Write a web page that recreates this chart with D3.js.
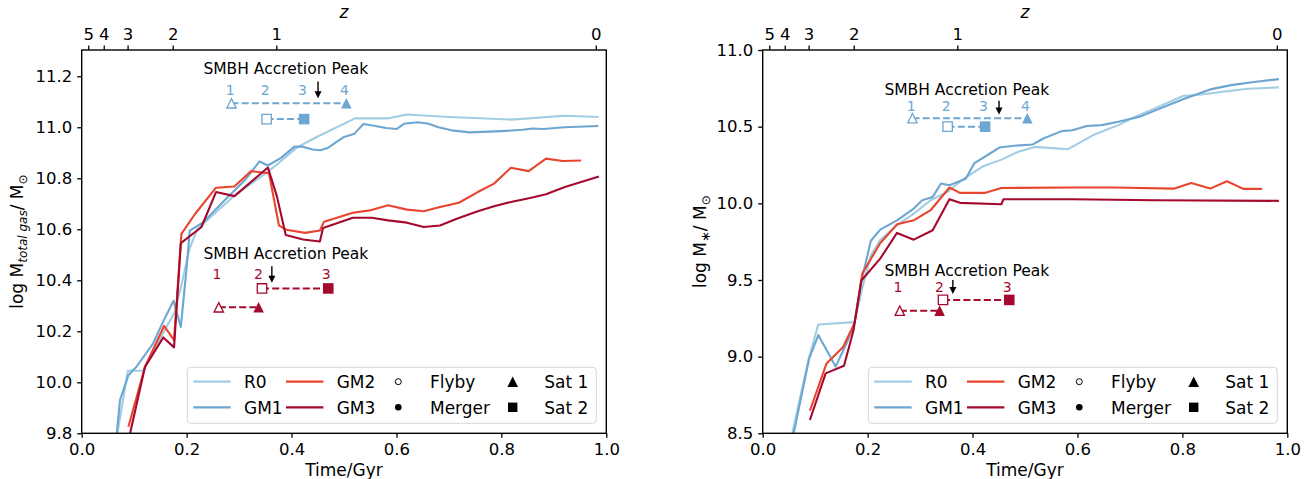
<!DOCTYPE html>
<html>
<head>
<meta charset="utf-8">
<script src="https://cdn.jsdelivr.net/npm/d3@7"></script>
<style>
body { margin: 0; background: #fff; }
text { font-family: "DejaVu Sans", sans-serif; }
</style>
</head>
<body>
<svg id="chart" width="1309" height="479"></svg>
<script>
// series names + colours
const seriesNames = ["R0", "GM1", "GM2", "GM3"];
const seriesColors = ["#a0cde4", "#6ea6d2", "#e8442e", "#a50a2e"];

// redshift ticks on the top axis (time where each z sits)
const zTickLabels = [5, 4, 3, 2, 1, 0];
const zTickTimes = [0.0125, 0.042, 0.0875, 0.1735, 0.371, 0.98];

const timeTicks = [0.0, 0.2, 0.4, 0.6, 0.8, 1.0];
const gasTicks = [9.8, 10.0, 10.2, 10.4, 10.6, 10.8, 11.0, 11.2];
const starTicks = [8.5, 9.0, 9.5, 10.0, 10.5, 11.0];

// log M_total gas  [time, value]
const gasR0 = [[0.060, 9.70], [0.088, 10.045], [0.117, 10.045], [0.135, 10.12], [0.157, 10.20],
  [0.176, 10.27], [0.190, 10.38], [0.205, 10.52], [0.220, 10.60], [0.287, 10.725], [0.351, 10.82],
  [0.370, 10.85], [0.410, 10.92], [0.446, 10.96], [0.521, 11.035], [0.585, 11.035], [0.620, 11.05],
  [0.700, 11.04], [0.820, 11.03], [0.920, 11.045], [0.985, 11.04]];
const gasGM1 = [[0.060, 9.65], [0.073, 9.93], [0.089, 10.028], [0.104, 10.06], [0.136, 10.152],
  [0.155, 10.237], [0.175, 10.32], [0.189, 10.217], [0.200, 10.45], [0.206, 10.595], [0.232, 10.628],
  [0.272, 10.713], [0.310, 10.79], [0.339, 10.866], [0.355, 10.85], [0.380, 10.88], [0.405, 10.923],
  [0.420, 10.925], [0.440, 10.913], [0.455, 10.91], [0.470, 10.92], [0.500, 10.962], [0.520, 10.975],
  [0.537, 11.013], [0.560, 11.005], [0.580, 10.997], [0.600, 10.993], [0.615, 11.014], [0.640, 11.02],
  [0.660, 11.015], [0.680, 11.0], [0.705, 10.988], [0.740, 10.98], [0.800, 10.985], [0.840, 10.99],
  [0.860, 10.995], [0.880, 10.993], [0.920, 11.0], [0.985, 11.005]];
const gasGM2 = [[0.089, 9.826], [0.1206, 10.06], [0.157, 10.221], [0.176, 10.165], [0.190, 10.582],
  [0.216, 10.66], [0.256, 10.763], [0.291, 10.768], [0.323, 10.828], [0.357, 10.82], [0.376, 10.615],
  [0.390, 10.598], [0.426, 10.586], [0.454, 10.595], [0.462, 10.63], [0.517, 10.665], [0.549, 10.674],
  [0.584, 10.694], [0.620, 10.677], [0.652, 10.671], [0.683, 10.687], [0.719, 10.704], [0.755, 10.746],
  [0.786, 10.779], [0.818, 10.841], [0.852, 10.828], [0.885, 10.877], [0.917, 10.868], [0.952, 10.87]];
const gasGM3 = [[0.089, 9.77], [0.1206, 10.06], [0.1556, 10.176], [0.176, 10.137], [0.189, 10.546],
  [0.228, 10.608], [0.256, 10.746], [0.291, 10.73], [0.355, 10.842], [0.372, 10.73], [0.389, 10.578],
  [0.422, 10.56], [0.454, 10.552], [0.460, 10.605], [0.517, 10.645], [0.553, 10.645], [0.584, 10.635],
  [0.620, 10.626], [0.652, 10.609], [0.683, 10.615], [0.715, 10.641], [0.755, 10.671], [0.786, 10.69],
  [0.818, 10.707], [0.857, 10.724], [0.885, 10.737], [0.921, 10.766], [0.952, 10.785], [0.986, 10.807]];

// log M_*  [time, value]
const starR0 = [[0.050, 8.40], [0.087, 8.978], [0.106, 9.21], [0.175, 9.225], [0.190, 9.45],
  [0.206, 9.66], [0.224, 9.76], [0.256, 9.857], [0.288, 9.933], [0.320, 10.02], [0.352, 10.074],
  [0.383, 10.16], [0.419, 10.24], [0.455, 10.285], [0.487, 10.336], [0.519, 10.368], [0.582, 10.353],
  [0.630, 10.445], [0.678, 10.51], [0.710, 10.564], [0.757, 10.634], [0.801, 10.70], [0.837, 10.71],
  [0.877, 10.728], [0.924, 10.747], [0.984, 10.756]];
const starGM1 = [[0.050, 8.35], [0.0887, 8.989], [0.106, 9.141], [0.139, 8.935], [0.160, 9.087],
  [0.175, 9.22], [0.190, 9.52], [0.206, 9.754], [0.224, 9.828], [0.256, 9.889], [0.288, 9.966],
  [0.304, 10.02], [0.324, 10.042], [0.340, 10.129], [0.356, 10.118], [0.387, 10.16], [0.403, 10.26],
  [0.431, 10.32], [0.451, 10.364], [0.479, 10.375], [0.515, 10.384], [0.535, 10.423], [0.570, 10.471],
  [0.590, 10.477], [0.618, 10.504], [0.646, 10.51], [0.678, 10.532], [0.718, 10.564], [0.757, 10.619],
  [0.805, 10.684], [0.853, 10.743], [0.893, 10.771], [0.940, 10.793], [0.984, 10.81]];
const starGM2 = [[0.090, 8.647], [0.1217, 8.956], [0.153, 9.061], [0.175, 9.218], [0.190, 9.544],
  [0.224, 9.74], [0.256, 9.863], [0.288, 9.889], [0.320, 9.955], [0.356, 10.103], [0.376, 10.068],
  [0.423, 10.068], [0.455, 10.10], [0.590, 10.103], [0.670, 10.103], [0.785, 10.096], [0.817, 10.133],
  [0.853, 10.096], [0.885, 10.144], [0.916, 10.094], [0.952, 10.094]];
const starGM3 = [[0.090, 8.587], [0.120, 8.891], [0.155, 8.94], [0.173, 9.17], [0.188, 9.497],
  [0.224, 9.639], [0.256, 9.807], [0.288, 9.763], [0.324, 9.824], [0.356, 10.027], [0.376, 10.003],
  [0.455, 9.994], [0.459, 10.027], [0.590, 10.027], [0.749, 10.02], [0.984, 10.016]];

// satellite events: [satellite, flyby time, merger time]
const gm1Events = [["Sat 1", 0.2855, 0.5045], ["Sat 2", 0.3525, 0.424]];
const gm3Events = [["Sat 1", 0.2613, 0.3372], ["Sat 2", 0.3437, 0.470]];
const gm1Numbers = [0.283, 0.350, 0.421, 0.501];
const gm3Numbers = [0.258, 0.337, 0.466];
const gm1Peak = 0.4505;
const gm3Peak = 0.3625;

const svg = d3.select("#chart");
const plotW = 524.6, plotTop = 50, plotBottom = 433.3;

const panels = [
  {
    id: "gas", left: 81.7, yDomain: [9.8, 11.303], yTicks: gasTicks,
    series: [gasR0, gasGM1, gasGM2, gasGM3], labelX: 23,
    label: [["log M", 0, 17, false], ["total gas", 4, 12, true], ["/ M", -4, 17, false], ["⊙", 4, 12, false]],
    blue: { text: 11.209, nums: 11.127, arrow: [11.179, 11.114], rows: [11.094, 11.032] },
    red: { text: 10.484, nums: 10.406, arrow: [10.455, 10.390], rows: [10.294, 10.368] }
  },
  {
    id: "star", left: 762.7, yDomain: [8.5, 11.0], yTicks: starTicks,
    series: [starR0, starGM1, starGM2, starGM3], labelX: 705.5,
    label: [["log M", 0, 17, false], ["∗", 4, 13, false], ["/ M", -4, 17, false], ["⊙", 4, 12, false]],
    blue: { text: 10.705, nums: 10.604, arrow: [10.669, 10.58], rows: [10.555, 10.50] },
    red: { text: 9.526, nums: 9.42, arrow: [9.50, 9.408], rows: [9.30, 9.37] }
  }
];

function triPath(s) {
  const h = s / 2;
  return `M0,${-h}L${h},${h}L${-h},${h}Z`;
}
function sqPath(s) {
  const h = s / 2;
  return `M${-h},${-h}H${h}V${h}H${-h}Z`;
}

function drawAnnotation(g, x, y, spec, events, numbers, peak, color) {
  g.append("text")
    .attr("x", x(0.232)).attr("y", y(spec.text))
    .attr("font-size", 15.5).attr("fill", "#000")
    .text("SMBH Accretion Peak");

  g.selectAll(null).data(numbers).enter().append("text")
    .attr("x", d => x(d)).attr("y", y(spec.nums))
    .attr("text-anchor", "middle").attr("font-size", 14).attr("fill", color)
    .text((d, i) => i + 1);

  // arrow pointing down at the accretion peak
  const ax = x(peak), y0 = y(spec.arrow[0]), y1 = y(spec.arrow[1]);
  g.append("line").attr("x1", ax).attr("x2", ax).attr("y1", y0).attr("y2", y1 - 6)
    .attr("stroke", "#000").attr("stroke-width", 1.4);
  g.append("path").attr("d", `M${ax - 3.5},${y1 - 7}L${ax + 3.5},${y1 - 7}L${ax},${y1}Z`).attr("fill", "#000");

  events.forEach((ev, i) => {
    const ry = y(spec.rows[i]);
    const shape = ev[0] === "Sat 1" ? triPath : sqPath;
    g.append("line").attr("x1", x(ev[1])).attr("x2", x(ev[2])).attr("y1", ry).attr("y2", ry)
      .attr("stroke", color).attr("stroke-width", 2).attr("stroke-dasharray", "7,3.2");
    g.append("path").attr("d", shape(9.4)).attr("transform", `translate(${x(ev[1])},${ry})`)
      .attr("fill", "#fff").attr("stroke", color).attr("stroke-width", 1.3);
    g.append("path").attr("d", shape(10.6)).attr("transform", `translate(${x(ev[2])},${ry})`)
      .attr("fill", color);
  });
}

function drawLegend(g, x) {
  const bw = 409, bh = 56;
  const lg = g.append("g").attr("transform", `translate(${x(1) - 10 - bw},${plotBottom - 10 - bh})`);
  lg.append("rect").attr("width", bw).attr("height", bh).attr("rx", 3.5)
    .attr("fill", "#fff").attr("fill-opacity", 0.8).attr("stroke", "#d6d6d6").attr("stroke-width", 1);

  const rowsY = [14.4, 40];
  seriesNames.forEach((name, i) => {
    const col = Math.floor(i / 2), row = i % 2;
    const lx = col === 0 ? 6 : 98.7;
    lg.append("line").attr("x1", lx).attr("x2", lx + 37.4).attr("y1", rowsY[row]).attr("y2", rowsY[row])
      .attr("stroke", seriesColors[i]).attr("stroke-width", 2.2);
    lg.append("text").attr("x", col === 0 ? 56.7 : 149.4).attr("y", rowsY[row] + 6.4)
      .attr("font-size", 17).text(name);
  });

  lg.append("circle").attr("cx", 211).attr("cy", rowsY[0]).attr("r", 3)
    .attr("fill", "#fff").attr("stroke", "#000").attr("stroke-width", 1);
  lg.append("text").attr("x", 242.7).attr("y", rowsY[0] + 6.4).attr("font-size", 17).text("Flyby");
  lg.append("circle").attr("cx", 211).attr("cy", rowsY[1]).attr("r", 3.3).attr("fill", "#000");
  lg.append("text").attr("x", 242.7).attr("y", rowsY[1] + 6.4).attr("font-size", 17).text("Merger");

  lg.append("path").attr("d", triPath(10.6)).attr("transform", `translate(325.4,${rowsY[0]})`).attr("fill", "#000");
  lg.append("text").attr("x", 357).attr("y", rowsY[0] + 6.4).attr("font-size", 17).text("Sat 1");
  lg.append("path").attr("d", sqPath(9.4)).attr("transform", `translate(325.4,${rowsY[1]})`).attr("fill", "#000");
  lg.append("text").attr("x", 357).attr("y", rowsY[1] + 6.4).attr("font-size", 17).text("Sat 2");
}

panels.forEach(p => {
  const x = d3.scaleLinear().domain([0, 1]).range([p.left, p.left + plotW]);
  const y = d3.scaleLinear().domain(p.yDomain).range([plotBottom, plotTop]);
  const g = svg.append("g");

  const clipId = "clip-" + p.id;
  svg.append("clipPath").attr("id", clipId).append("rect")
    .attr("x", x(0)).attr("y", plotTop).attr("width", plotW).attr("height", plotBottom - plotTop);

  // curves
  const line = d3.line().x(d => x(d[0])).y(d => y(d[1]));
  g.append("g").attr("clip-path", `url(#${clipId})`)
    .selectAll("path").data(p.series).enter().append("path")
    .attr("d", line).attr("fill", "none")
    .attr("stroke", (d, i) => seriesColors[i]).attr("stroke-width", 2.1)
    .attr("stroke-linejoin", "round");

  drawAnnotation(g, x, y, p.blue, gm1Events, gm1Numbers, gm1Peak, seriesColors[1]);
  drawAnnotation(g, x, y, p.red, gm3Events, gm3Numbers, gm3Peak, seriesColors[3]);

  drawLegend(g, x);

  // spines
  g.append("rect").attr("x", x(0)).attr("y", plotTop).attr("width", plotW).attr("height", plotBottom - plotTop)
    .attr("fill", "none").attr("stroke", "#000").attr("stroke-width", 1.4);

  // axes
  const xAxis = g.append("g").attr("transform", `translate(0,${plotBottom})`)
    .call(d3.axisBottom(x).tickValues(timeTicks).tickFormat(d3.format(".1f")).tickSize(4.5).tickPadding(5));
  const yAxis = g.append("g").attr("transform", `translate(${x(0)},0)`)
    .call(d3.axisLeft(y).tickValues(p.yTicks).tickFormat(d3.format(".1f")).tickSize(4.5).tickPadding(5));
  const zAxis = g.append("g").attr("transform", `translate(0,${plotTop})`)
    .call(d3.axisTop(x).tickValues(zTickTimes).tickFormat((d, i) => zTickLabels[i]).tickSize(4.5).tickPadding(6));
  [xAxis, yAxis, zAxis].forEach(a => {
    a.select(".domain").remove();
    a.selectAll("line").attr("stroke", "#000").attr("stroke-width", 1.3);
    a.selectAll("text").attr("font-size", 16.5).attr("fill", "#000")
      .attr("font-family", '"DejaVu Sans", sans-serif');
  });

  // axis labels
  g.append("text").attr("x", x(0.5)).attr("y", 475.5).attr("text-anchor", "middle")
    .attr("font-size", 17).text("Time/Gyr");
  g.append("text").attr("x", x(0.5)).attr("y", 18).attr("text-anchor", "middle")
    .attr("font-size", 17).attr("font-style", "italic").text("z");

  const yl = g.append("text")
    .attr("transform", `translate(${p.labelX},${(plotTop + plotBottom) / 2}) rotate(-90)`)
    .attr("text-anchor", "middle");
  p.label.forEach(part => {
    yl.append("tspan").attr("dy", part[1]).attr("font-size", part[2])
      .attr("font-style", part[3] ? "italic" : null).text(part[0]);
  });
});
</script>
</body>
</html>
